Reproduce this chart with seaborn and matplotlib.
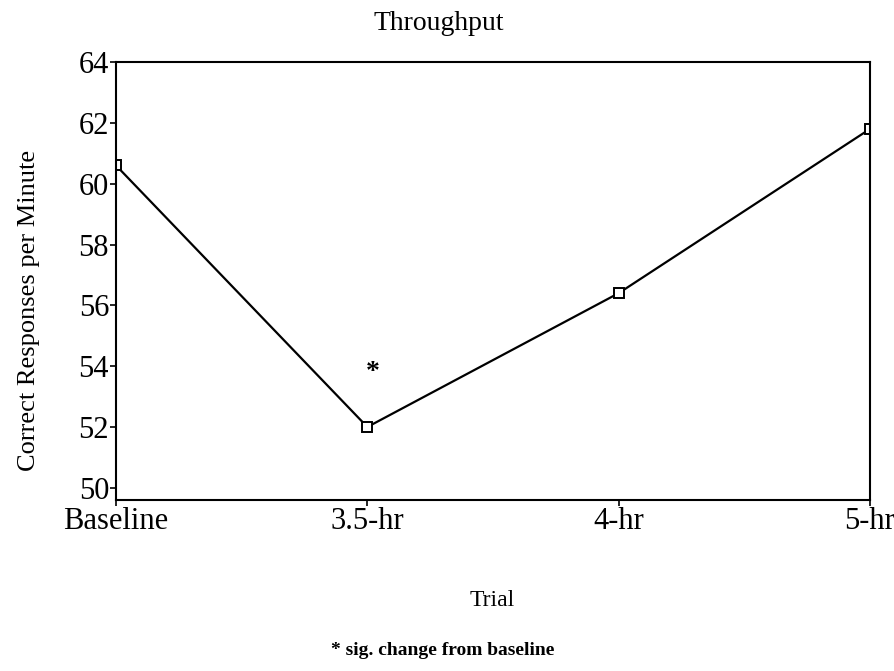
import seaborn as sns
import matplotlib.pyplot as plt
import pandas as pd

trials = ["Baseline", "3.5-hr", "4-hr", "5-hr"]
throughput = [60.6, 52.0, 56.4, 61.8]
y_ticks = [50, 52, 54, 56, 58, 60, 62, 64]

df = pd.DataFrame({"x": range(len(trials)), "Throughput": throughput})

sns.set_style("white")
plt.rcParams["font.family"] = ["Liberation Serif", "DejaVu Serif"]
plt.rcParams["text.color"] = "black"

fig = plt.figure(figsize=(8.95, 6.71), dpi=100)
ax = fig.add_axes([116 / 895, 1 - 500 / 671, (870 - 116) / 895, (500 - 62) / 671])

sns.lineplot(data=df, x="x", y="Throughput", ax=ax, color="black", lw=1.6,
             marker="s", markersize=7, markerfacecolor="white",
             markeredgecolor="black", markeredgewidth=1.4)

# significance mark above 3.5-hr
ax.text(1.02, 53.8, "*", fontsize=20, fontweight="bold", ha="center", va="center")

ax.set_xlim(0, 3)
ax.set_ylim(49.6, 64)
ax.set_xticks(range(len(trials)))
ax.set_xticklabels(trials)
ax.set_yticks(y_ticks)
ax.tick_params(axis="both", labelsize=22, length=4, width=1.2, direction="out",
               bottom=True, left=True, colors="black", pad=1)
for s in ax.spines.values():
    s.set_color("black")
    s.set_linewidth(1.5)
ax.set_xlabel("")
ax.set_ylabel("")

fig.text(0.49, 0.965, "Throughput", fontsize=20, ha="center", va="center")
fig.text(0.55, 0.105, "Trial", fontsize=17, ha="center", va="center")
fig.text(0.032, 0.537, "Correct Responses per Minute", fontsize=19,
         rotation=90, ha="center", va="center")
fig.text(0.495, 0.03, "* sig. change from baseline", fontsize=14,
         fontweight="bold", ha="center", va="center")

fig.savefig("out.png", dpi=100)
